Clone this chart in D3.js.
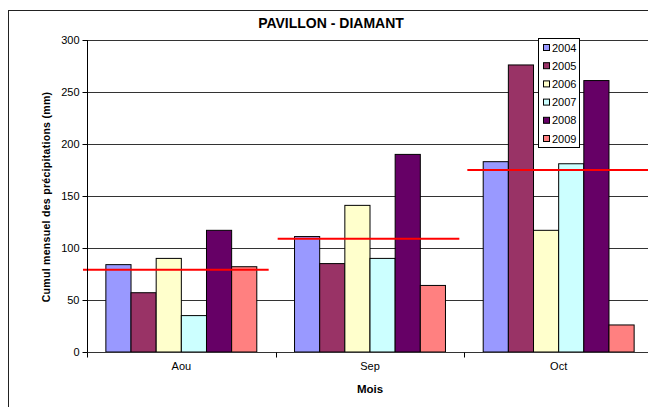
<!DOCTYPE html>
<html lang="fr">
<head>
  <meta charset="UTF-8" />
  <title>PAVILLON - DIAMANT</title>
  <script src="https://cdnjs.cloudflare.com/ajax/libs/d3/7.8.5/d3.min.js"></script>
  <style>
    body { margin: 0; background: #fff; }
    svg { display: block; font-family: "Liberation Sans", Arial, sans-serif; }
  </style>
</head>
<body>
  <svg id="chart" width="648" height="407"></svg>
  <script>
    // data
    const months = ["Aou", "Sep", "Oct"];
    const years = ["2004", "2005", "2006", "2007", "2008", "2009"];
    const values = {
      "2004": [84, 111, 183],
      "2005": [57, 85, 276],
      "2006": [90, 141, 117],
      "2007": [35, 90, 181],
      "2008": [117, 190, 261],
      "2009": [82, 64, 26]
    };
    const averages = [79, 109, 175];
    const yTicks = [0, 50, 100, 150, 200, 250, 300];
    const colors = ["#9999FF", "#993366", "#FFFFCC", "#CCFFFF", "#660066", "#FF8080"];

    const svg = d3.select("#chart");
    const plotL = 87, plotR = 653, plotT = 40, plotB = 352;

    const x = d3.scaleBand().domain(months).range([plotL, plotR]);
    const cw = x.bandwidth();
    const barW = cw / 7.5;
    const xYear = d3.scaleBand().domain(years).range([barW * 0.75, cw - barW * 0.75]);
    const y = d3.scaleLinear().domain([0, 300]).range([plotB, plotT]);
    const color = d3.scaleOrdinal().domain(years).range(colors);

    // chart frame
    svg.append("rect")
      .attr("x", 8.5).attr("y", 10.5)
      .attr("width", 700).attr("height", 500)
      .attr("fill", "#fff").attr("stroke", "#222");

    // grid lines
    svg.append("g").selectAll("line")
      .data(yTicks.filter(d => d > 0))
      .enter().append("line")
      .attr("x1", plotL).attr("x2", plotR)
      .attr("y1", d => Math.round(y(d)) + 0.5)
      .attr("y2", d => Math.round(y(d)) + 0.5)
      .attr("stroke", "#333");

    // bars
    const groups = svg.append("g").selectAll("g")
      .data(months)
      .enter().append("g")
      .attr("transform", m => `translate(${x(m)},0)`);

    groups.selectAll("rect")
      .data((m, i) => years.map(yr => ({ yr, v: values[yr][i] })))
      .enter().append("rect")
      .attr("x", d => xYear(d.yr))
      .attr("y", d => y(d.v))
      .attr("width", xYear.bandwidth())
      .attr("height", d => plotB - y(d.v))
      .attr("fill", d => color(d.yr))
      .attr("stroke", "#000")
      .attr("stroke-width", 1);

    // average lines
    svg.append("g").selectAll("line")
      .data(months)
      .enter().append("line")
      .attr("x1", (m, i) => x(m) + [-4, 2, 3][i])
      .attr("x2", (m, i) => x(m) + cw - [7, 5, 0][i])
      .attr("y1", (m, i) => y(averages[i]))
      .attr("y2", (m, i) => y(averages[i]))
      .attr("stroke", "#FF0000")
      .attr("stroke-width", 2);

    // y axis
    const yAxis = svg.append("g")
      .attr("transform", `translate(${plotL + 0.5},0)`)
      .call(d3.axisLeft(y).tickValues(yTicks).tickSize(5).tickPadding(3));
    yAxis.select(".domain").attr("stroke", "#000").attr("d", `M0,${plotT}V${plotB}`);
    yAxis.selectAll("line").attr("stroke", "#000");
    yAxis.selectAll("text").attr("font-size", 11).attr("fill", "#000")
      .attr("font-family", "Liberation Sans, Arial, sans-serif");

    // x axis
    const xAxis = svg.append("g")
      .attr("transform", `translate(0,${plotB + 0.5})`)
      .call(d3.axisBottom(x).tickSize(0).tickPadding(10));
    xAxis.select(".domain").attr("stroke", "#333").attr("d", `M${plotL},0H${plotR}`);
    xAxis.selectAll("text").attr("font-size", 11).attr("fill", "#000")
      .attr("font-family", "Liberation Sans, Arial, sans-serif");
    xAxis.selectAll(".sep")
      .data(months)
      .enter().append("line")
      .attr("class", "sep")
      .attr("x1", m => Math.round(x(m)) + 0.5)
      .attr("x2", m => Math.round(x(m)) + 0.5)
      .attr("y1", 0).attr("y2", 5)
      .attr("stroke", "#000");

    // titles
    svg.append("text")
      .attr("x", 331).attr("y", 28)
      .attr("text-anchor", "middle")
      .attr("font-size", 14).attr("font-weight", "bold")
      .text("PAVILLON - DIAMANT");

    svg.append("text")
      .attr("x", (plotL + plotR) / 2).attr("y", 393)
      .attr("text-anchor", "middle")
      .attr("font-size", 11.5).attr("font-weight", "bold")
      .text("Mois");

    svg.append("text")
      .attr("transform", "translate(50,197) rotate(-90)")
      .attr("text-anchor", "middle")
      .attr("font-size", 10.5).attr("font-weight", "bold")
      .attr("letter-spacing", 0.3)
      .text("Cumul mensuel des précipitations (mm)");

    // legend
    const legend = svg.append("g");
    legend.append("rect")
      .attr("x", 538.5).attr("y", 38.5)
      .attr("width", 41).attr("height", 109)
      .attr("fill", "#fff").attr("stroke", "#000");
    const item = legend.selectAll(".item")
      .data(years)
      .enter().append("g")
      .attr("class", "item")
      .attr("transform", (d, i) => `translate(0,${47.5 + i * 18.2})`);
    item.append("rect")
      .attr("x", 543.5).attr("y", -3)
      .attr("width", 6).attr("height", 6)
      .attr("fill", d => color(d))
      .attr("stroke", "#000");
    item.append("text")
      .attr("x", 552).attr("y", 4)
      .attr("font-size", 11)
      .text(d => d);
  </script>
</body>
</html>
